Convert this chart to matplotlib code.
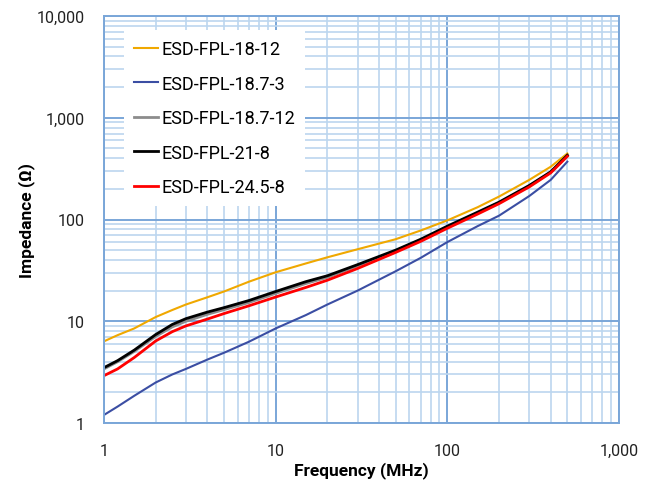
import matplotlib
matplotlib.use("Agg")
import matplotlib.pyplot as plt
from matplotlib.ticker import LogLocator, FuncFormatter, NullFormatter

freq = [1, 1.2, 1.5, 2, 2.5, 3, 4, 5, 7, 10, 15, 20, 30, 50, 70, 100, 150, 200, 300, 400, 500]
z_18_12 = [6.35, 7.3, 8.5, 11.0, 12.9, 14.6, 17.2, 19.6, 24.5, 30.3, 37, 42.5, 51, 64, 78, 98, 132, 168, 245, 330, 445]
z_187_3 = [1.2, 1.45, 1.85, 2.5, 3.0, 3.4, 4.2, 4.9, 6.3, 8.5, 11.5, 14.6, 20, 31, 42, 60, 86, 109, 170, 245, 370]
z_187_12 = [3.4, 4.0, 5.05, 7.1, 8.8, 10.0, 11.7, 13.0, 15.3, 18.8, 23.5, 27, 35, 49, 63, 84, 116, 146, 213, 292, 425]
z_21_8 = [3.5, 4.1, 5.2, 7.4, 9.3, 10.6, 12.3, 13.6, 16.0, 19.6, 24.5, 28, 36, 50, 64, 86, 118, 148, 216, 294, 428]
z_245_8 = [2.92, 3.4, 4.4, 6.4, 7.9, 9.0, 10.5, 11.9, 14.2, 17.3, 21.5, 25.3, 33, 47.5, 61, 82, 113, 143, 209, 287, 418]

labels = ["ESD-FPL-18-12", "ESD-FPL-18.7-3", "ESD-FPL-18.7-12", "ESD-FPL-21-8", "ESD-FPL-24.5-8"]
series = [z_18_12, z_187_3, z_187_12, z_21_8, z_245_8]
colors = ["#f0a800", "#3b4ea3", "#8c8c8c", "#000000", "#ff0000"]
widths = [1.5, 1.5, 2.0, 2.0, 2.0]

plt.rcParams['font.family'] = ['Roboto', 'DejaVu Sans']

fig = plt.figure(figsize=(6.54, 4.85), dpi=100)
ax = fig.add_axes([104/654, 61/485, 515/654, 407/485])

ax.set_xscale('log')
ax.set_yscale('log')
ax.set_xlim(1, 1000)
ax.set_ylim(1, 10000)

major_c = "#7aa6d8"
minor_c = "#bcd6ef"
ax.grid(which='minor', color=minor_c, linewidth=1.2)
ax.grid(which='major', color=major_c, linewidth=1.4)
ax.set_axisbelow(True)
ax.xaxis.set_major_locator(LogLocator(base=10, numticks=10))
ax.yaxis.set_major_locator(LogLocator(base=10, numticks=10))
ax.xaxis.set_minor_locator(LogLocator(base=10, subs=range(2, 10), numticks=100))
ax.yaxis.set_minor_locator(LogLocator(base=10, subs=range(2, 10), numticks=100))
fmt = FuncFormatter(lambda v, p: f"{v:,.0f}")
ax.xaxis.set_major_formatter(fmt)
ax.yaxis.set_major_formatter(fmt)
ax.xaxis.set_minor_formatter(NullFormatter())
ax.yaxis.set_minor_formatter(NullFormatter())
ax.tick_params(which='both', length=0, labelsize=11.5, colors='#222222')
ax.tick_params(axis='x', pad=14.5)
ax.tick_params(axis='y', pad=14)
for s in ax.spines.values():
    s.set_color(major_c)
    s.set_linewidth(1.4)

for lab, ys, c, w in zip(labels, series, colors, widths):
    ax.plot(freq, ys, color=c, linewidth=w, label=lab)

ax.set_xlabel("Frequency (MHz)", fontsize=12.5, fontweight='bold', labelpad=2)
ax.set_ylabel("Impedance (Ω)", fontsize=12.5, fontweight='bold', labelpad=1)

leg = ax.legend(loc='upper left', bbox_to_anchor=(124/654, 1-31/485), bbox_transform=fig.transFigure,
                fontsize=13, frameon=True, fancybox=False, framealpha=1, edgecolor='none',
                facecolor='white', handlelength=1.35, handletextpad=0.15, labelspacing=0.92,
                borderpad=0.55, borderaxespad=0)

fig.savefig("out.png", dpi=100)
